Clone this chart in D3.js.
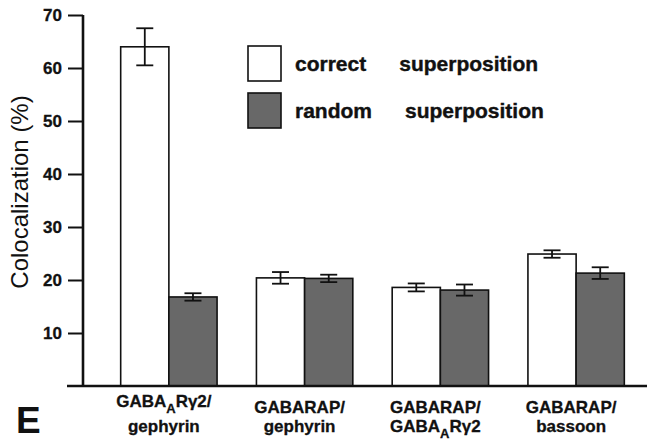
<!DOCTYPE html>
<html>
<head>
<meta charset="utf-8">
<script src="https://cdn.jsdelivr.net/npm/d3@7"></script>
<style>
  body { margin: 0; background: #fff; }
  svg { display: block; font-family: "Liberation Sans", Arial, Helvetica, sans-serif; }
</style>
</head>
<body>
<div id="container"></div>
<script>
// category labels: each line is a list of [text, isSubscript] pieces
const categories = ['g1', 'g2', 'g3', 'g4'];
const categoryLabels = [
  [[['GABA', false], ['A', true], ['R\u03b32/', false]], [['gephyrin', false]]],
  [[['GABARAP/', false]], [['gephyrin', false]]],
  [[['GABARAP/', false]], [['GABA', false], ['A', true], ['R\u03b32', false]]],
  [[['GABARAP/', false]], [['bassoon', false]]],
];
const series = ['correct', 'random'];
const seriesLabels = [['correct', 'superposition'], ['random', 'superposition']];
const correctValues = [64.0, 20.4, 18.6, 24.9];
const correctErrors = [3.5, 1.1, 0.75, 0.7];
const randomValues = [16.8, 20.3, 18.1, 21.3];
const randomErrors = [0.7, 0.7, 1.05, 1.1];
const yTicks = [10, 20, 30, 40, 50, 60, 70];

const w = 647;
const h = 443;
const fills = { correct: '#ffffff', random: '#686868' };

const svg = d3.select('#container').append('svg')
  .attr('width', w)
  .attr('height', h);

const yScale = d3.scaleLinear().domain([0, 70]).range([386, 15]);

const xScale = d3.scaleBand()
  .domain(categories)
  .range([101, 644])
  .paddingInner(0.29)
  .paddingOuter(0.145);

const xInner = d3.scaleBand()
  .domain(series)
  .range([0, xScale.bandwidth()]);

const rows = [];
categories.forEach((c, i) => {
  rows.push({ cat: c, s: 'correct', v: correctValues[i], e: correctErrors[i] });
  rows.push({ cat: c, s: 'random', v: randomValues[i], e: randomErrors[i] });
});

// bars
svg.selectAll('rect.bar')
  .data(rows)
  .enter()
  .append('rect')
  .attr('class', 'bar')
  .attr('x', d => xScale(d.cat) + xInner(d.s))
  .attr('y', d => yScale(d.v))
  .attr('width', xInner.bandwidth())
  .attr('height', d => yScale(0) - yScale(d.v))
  .attr('fill', d => fills[d.s])
  .attr('stroke', '#111')
  .attr('stroke-width', 1.6);

// error bars
const err = svg.selectAll('g.err')
  .data(rows)
  .enter()
  .append('g')
  .attr('class', 'err')
  .attr('stroke', '#111')
  .attr('stroke-width', 1.8);
const cx = d => xScale(d.cat) + xInner(d.s) + xInner.bandwidth() / 2;
err.append('line')
  .attr('x1', cx).attr('x2', cx)
  .attr('y1', d => yScale(d.v + d.e))
  .attr('y2', d => yScale(d.v - d.e));
[1, -1].forEach(sign => {
  err.append('line')
    .attr('x1', d => cx(d) - 8.5)
    .attr('x2', d => cx(d) + 8.5)
    .attr('y1', d => yScale(d.v + sign * d.e))
    .attr('y2', d => yScale(d.v + sign * d.e));
});

// y axis
const yAxis = d3.axisLeft(yScale)
  .tickValues(yTicks)
  .tickSize(15)
  .tickPadding(6)
  .tickSizeOuter(0);
const yG = svg.append('g')
  .attr('transform', 'translate(83,0)')
  .call(yAxis);
yG.select('.domain').remove();
yG.selectAll('.tick line').attr('stroke', '#111').attr('stroke-width', 2);
yG.selectAll('.tick text')
  .attr('fill', '#111')
  .attr('stroke', '#111')
  .attr('stroke-width', 0.3)
  .style('font-size', '17px')
  .style('font-weight', 'bold')
  .style('font-family', '"Liberation Sans", Arial, sans-serif');

svg.append('line')
  .attr('x1', 83).attr('x2', 83)
  .attr('y1', yScale(70)).attr('y2', yScale(0) + 1)
  .attr('stroke', '#111')
  .attr('stroke-width', 2.6);

// x axis line
svg.append('line')
  .attr('x1', 67).attr('x2', w)
  .attr('y1', yScale(0)).attr('y2', yScale(0))
  .attr('stroke', '#111')
  .attr('stroke-width', 2.6);

// category labels
categories.forEach((c, i) => {
  const lines = categoryLabels[i];
  lines.forEach((parts, li) => {
    const hasSub = parts.some(p => p[1]);
    let y = li === 0 ? 413 : 432;
    if (li === 0 && hasSub) y -= 6;
    const t = svg.append('text')
      .attr('x', xScale(c) + xScale.bandwidth() / 2 - 5)
      .attr('y', y)
      .attr('text-anchor', 'middle')
      .attr('fill', '#111')
      .attr('stroke', '#111')
      .attr('stroke-width', 0.3)
      .style('font-size', '17px')
      .style('font-weight', 'bold');
    parts.forEach((p, k) => {
      const ts = t.append('tspan').text(p[0]);
      if (p[1]) ts.attr('dy', 6).style('font-size', '13px');
      else if (k > 0 && parts[k - 1][1]) ts.attr('dy', -6);
    });
  });
});

// y axis title
svg.append('text')
  .attr('transform', 'translate(28,192) rotate(-90)')
  .attr('text-anchor', 'middle')
  .attr('fill', '#111')
  .style('font-size', '24px')
  .text('Colocalization (%)');

// panel letter
svg.append('text')
  .attr('x', 16)
  .attr('y', 433)
  .attr('fill', '#111')
  .style('font-size', '37px')
  .style('font-weight', 'bold')
  .text('E');

// legend
const legend = svg.selectAll('.legend')
  .data(series)
  .enter()
  .append('g')
  .attr('class', 'legend')
  .attr('transform', (d, i) => `translate(248,${46 + i * 47})`);

legend.append('rect')
  .attr('width', 33)
  .attr('height', 35)
  .attr('fill', d => fills[d])
  .attr('stroke', '#111')
  .attr('stroke-width', 1.6);

legend.each(function (d, i) {
  const g = d3.select(this);
  const first = g.append('text')
    .attr('x', 47)
    .attr('y', 25)
    .attr('fill', '#111')
    .attr('stroke', '#111')
    .attr('stroke-width', 0.4)
    .style('font-size', '21px')
    .style('font-weight', 'bold')
    .text(seriesLabels[i][0]);
  const len = first.node().getComputedTextLength();
  g.append('text')
    .attr('x', 47 + len + 33)
    .attr('y', 25)
    .attr('fill', '#111')
    .attr('stroke', '#111')
    .attr('stroke-width', 0.4)
    .style('font-size', '21px')
    .style('font-weight', 'bold')
    .text(seriesLabels[i][1]);
});
</script>
</body>
</html>
